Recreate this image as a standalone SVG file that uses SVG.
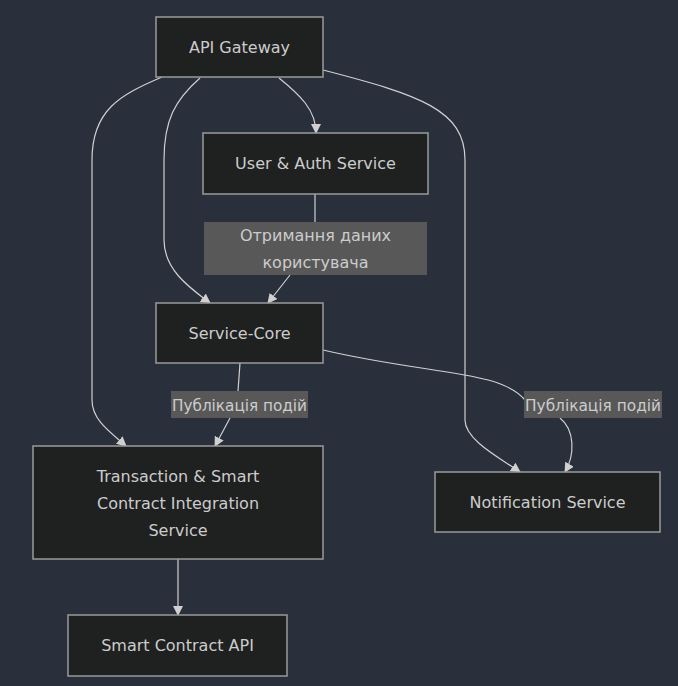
<svg xmlns="http://www.w3.org/2000/svg" width="678" height="686" viewBox="0 0 678 686">
<style>
.node rect{fill:#1f2020;stroke:#9a9a9a;stroke-width:1.5}
.node text,.lbl text{font-family:"DejaVu Sans",Verdana,sans-serif;font-size:16px;fill:#cccccc;text-anchor:middle;dominant-baseline:central}
.lbl rect{fill:#585858}
.edge{fill:none;stroke:#d0d0d0;stroke-width:1.2;marker-end:url(#arr)}
.seg{fill:none;stroke:#d0d0d0;stroke-width:1.2}
</style>
<defs>
<marker id="arr" viewBox="0 0 10 10" refX="9" refY="5" markerWidth="10" markerHeight="10" markerUnits="userSpaceOnUse" orient="auto">
<path d="M0,0 L10,5 L0,10 z" fill="#d0d0d0"/>
</marker>
</defs>
<rect width="678" height="686" fill="#2a2f3c"/>
<g id="connectors">
<path class="edge" d="M162,77 C120,95 92,110 92,160 L92,400 C92,420 110,432 126,446"/>
<path class="edge" d="M200,78 C175,100 164,120 164,160 L164,240 C164,270 190,288 210,303"/>
<path class="edge" d="M279,78 C300,95 316,110 316,133"/>
<path class="edge" d="M323,70 C420,95 465,110 465,160 L465,420 C465,440 500,458 520,472"/>
<path class="seg" d="M315,194 L315,222"/>
<path class="edge" d="M290,275 L268,303"/>
<path class="seg" d="M240,363 L238,391"/>
<path class="edge" d="M230,418 L215,446"/>
<path class="seg" d="M323,350 C430,375 500,370 525,400"/>
<path class="edge" d="M560,418 C575,430 575,455 565,472"/>
<path class="edge" d="M178,559 L178,615"/>
</g>
<g id="lbl1" class="lbl"><rect x="204" y="222" width="223" height="53"/><text x="315.5" y="235">Отримання даних</text><text x="315.5" y="262">користувача</text></g>
<g id="lbl2" class="lbl"><rect x="171" y="391" width="137" height="27"/><text x="239.5" y="405" textLength="135" lengthAdjust="spacingAndGlyphs">Публікація подій</text></g>
<g id="lbl3" class="lbl"><rect x="524" y="391" width="138" height="27"/><text x="593" y="405" textLength="136" lengthAdjust="spacingAndGlyphs">Публікація подій</text></g>
<g id="api" class="node"><rect x="156" y="17" width="167" height="60"/><text x="239.5" y="47">API Gateway</text></g>
<g id="auth" class="node"><rect x="203" y="133" width="225" height="61"/><text x="315.5" y="163.5">User &amp; Auth Service</text></g>
<g id="core" class="node"><rect x="156" y="303" width="167" height="60"/><text x="239.5" y="333">Service-Core</text></g>
<g id="tx" class="node"><rect x="33" y="446" width="290" height="113"/><text x="178" y="476">Transaction &amp; Smart</text><text x="178" y="503">Contract Integration</text><text x="178" y="530">Service</text></g>
<g id="notif" class="node"><rect x="435" y="472" width="225" height="60"/><text x="547.5" y="502">Notification Service</text></g>
<g id="sc" class="node"><rect x="68" y="615" width="219" height="61"/><text x="177.5" y="645.5">Smart Contract API</text></g>
</svg>
